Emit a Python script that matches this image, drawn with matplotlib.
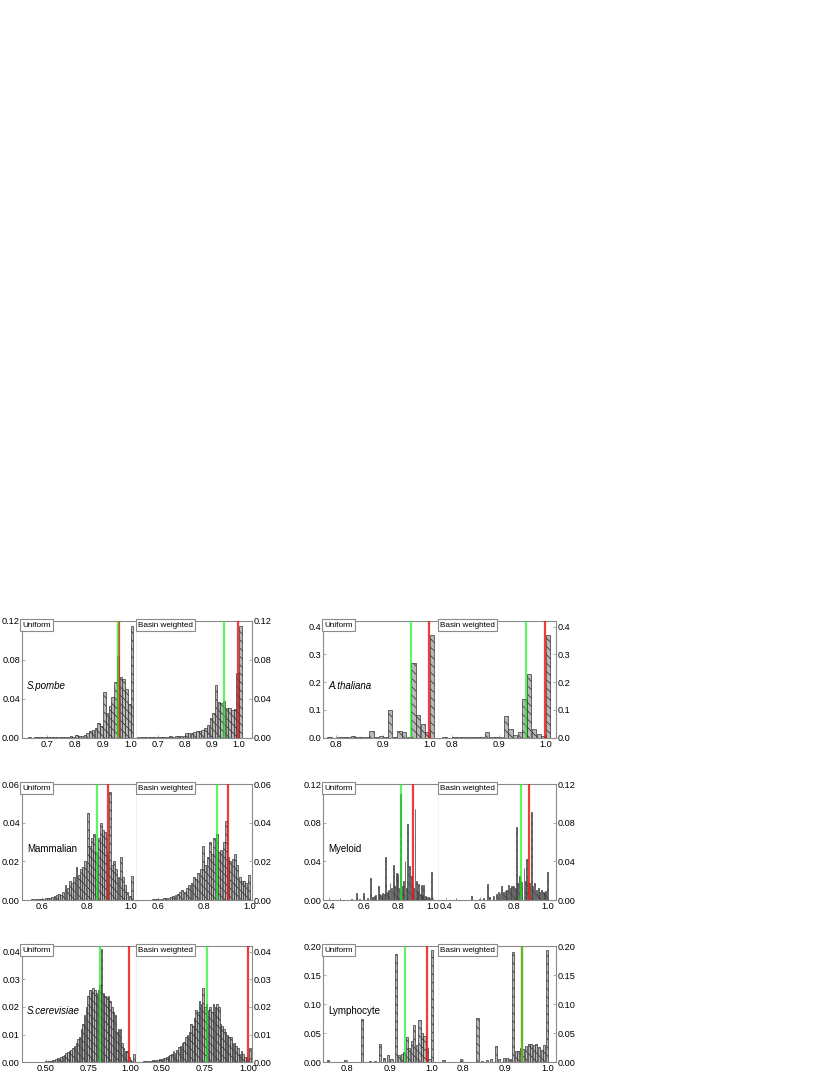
import numpy as np
import matplotlib
matplotlib.use('Agg')
import matplotlib.pyplot as plt
from matplotlib.ticker import FormatStrFormatter

plt.rcParams['font.family'] = ['Liberation Sans', 'DejaVu Sans']
plt.rcParams['hatch.linewidth'] = 0.5

# ---------------- data ----------------
# S.pombe (bin centres, width 0.01)
pombe_x = np.round(np.arange(0.615, 1.0051, 0.01), 3)
pombe_uniform = [0.0002, 0.0002, 0.0003, 0.0002, 0.0003, 0.0004, 0.0003, 0.0005, 0.0006,
                 0.0006, 0.0008, 0.0007, 0.001, 0.0008, 0.001, 0.0012, 0.001, 0.0015, 0.0012,
                 0.003, 0.002, 0.002, 0.003, 0.005, 0.007, 0.008, 0.010, 0.015, 0.012,
                 0.047, 0.025, 0.033, 0.042, 0.057, 0.084, 0.062, 0.060, 0.050, 0.035, 0.115]
pombe_basin = [0.0002, 0.0003, 0.0003, 0.0004, 0.0004, 0.0005, 0.0005, 0.0006, 0.0008,
               0.001, 0.0008, 0.0012, 0.001, 0.0015, 0.0012, 0.0015, 0.002, 0.0015, 0.002,
               0.005, 0.0048, 0.005, 0.006, 0.0065, 0.007, 0.008, 0.010, 0.013, 0.020, 0.025,
               0.054, 0.037, 0.036, 0.038, 0.031, 0.031, 0.028, 0.030, 0.067, 0.115]
pombe_lines = {'uniform': (0.955, 0.957), 'basin': (0.945, 0.995)}  # (green, red)

# A.thaliana
thal_x = np.round(np.arange(0.775, 1.0051, 0.01), 3)
thal_uniform = [0, 0.001, 0, 0.001, 0.001, 0.001, 0.005, 0.001, 0.004, 0.001, 0.023, 0.004,
                0.005, 0.004, 0.100, 0.003, 0.024, 0.022, 0.002, 0.270, 0.080, 0.050, 0.020, 0.370]
thal_basin = [0, 0.001, 0, 0.001, 0.001, 0.001, 0.004, 0.001, 0.003, 0.002, 0.020, 0.004,
              0.004, 0.003, 0.078, 0.030, 0.010, 0.020, 0.138, 0.228, 0.030, 0.012, 0.006, 0.370]
thal_lines = {'uniform': (0.959, 0.999), 'basin': (0.958, 0.999)}

# Mammalian
mamm_x = np.round(np.arange(0.555, 1.0051, 0.01), 3)
mamm_uniform = [0.0003, 0.0003, 0.0004, 0.0005, 0.0005, 0.0006, 0.0008, 0.001, 0.0012, 0.0015,
                0.002, 0.0025, 0.003, 0.0025, 0.004,
                0.008, 0.006, 0.010, 0.009, 0.012, 0.017, 0.013, 0.016, 0.017, 0.020,
                0.045, 0.028, 0.032, 0.034, 0.025, 0.032, 0.040, 0.036, 0.035, 0.025,
                0.056, 0.018, 0.020, 0.016, 0.012, 0.022, 0.012, 0.008, 0.004, 0.002, 0.0125]
mamm_basin = [0.0002, 0.0002, 0.0003, 0.0003, 0.0004, 0.0005, 0.0006, 0.0008, 0.001, 0.0012,
              0.0015, 0.002, 0.0025, 0.003, 0.004,
              0.005, 0.004, 0.006, 0.008, 0.009, 0.012, 0.011, 0.014, 0.016, 0.028,
              0.018, 0.022, 0.030, 0.024, 0.032, 0.034, 0.025, 0.026, 0.030, 0.041,
              0.022, 0.020, 0.021, 0.024, 0.018, 0.012, 0.010, 0.010, 0.009, 0.013, 0.0]
mamm_lines = {'uniform': (0.846, 0.899), 'basin': (0.858, 0.906)}

# Myeloid (sparse bins)
myel_u_x = [0.462, 0.500, 0.530, 0.555, 0.575, 0.597, 0.620, 0.640, 0.650, 0.660, 0.670, 0.684,
            0.692, 0.700, 0.710, 0.718, 0.727, 0.735, 0.744, 0.752, 0.760, 0.771, 0.778, 0.787,
            0.797, 0.805, 0.814, 0.822, 0.829, 0.839, 0.847, 0.855, 0.864, 0.875, 0.882, 0.889,
            0.897, 0.907, 0.913, 0.920, 0.928, 0.936, 0.942, 0.949, 0.957, 0.965, 0.975, 0.983, 0.995]
myel_uniform = [0.002, 0.0005, 0.0008, 0.007, 0.001, 0.007, 0.002, 0.023, 0.003, 0.004, 0.005, 0.0145,
                0.006, 0.005, 0.007, 0.006, 0.045, 0.008, 0.010, 0.018, 0.012, 0.036, 0.015, 0.028,
                0.027, 0.012, 0.110, 0.014, 0.020, 0.040, 0.012, 0.079, 0.035, 0.025, 0.010, 0.012,
                0.094, 0.020, 0.008, 0.017, 0.006, 0.0155, 0.005, 0.0155, 0.004, 0.003, 0.003, 0.002, 0.029]
myel_b_x = [0.459, 0.500, 0.552, 0.600, 0.620, 0.645, 0.660, 0.680, 0.700, 0.710, 0.720, 0.730,
            0.740, 0.750, 0.760, 0.769, 0.780, 0.790, 0.800, 0.810, 0.819, 0.826, 0.834, 0.842,
            0.850, 0.862, 0.870, 0.878, 0.886, 0.895, 0.908, 0.915, 0.927, 0.935, 0.947, 0.955,
            0.967, 0.975, 0.985, 0.992, 1.000]
myel_basin = [0.002, 0.0005, 0.004, 0.001, 0.002, 0.017, 0.003, 0.004, 0.006, 0.008, 0.007, 0.015,
              0.008, 0.009, 0.010, 0.016, 0.012, 0.014, 0.015, 0.012, 0.076, 0.018, 0.025, 0.020,
              0.019, 0.033, 0.020, 0.042, 0.020, 0.018, 0.091, 0.015, 0.018, 0.010, 0.012, 0.008,
              0.010, 0.008, 0.007, 0.009, 0.029]
myel_lines = {'uniform': (0.816, 0.883), 'basin': (0.842, 0.890)}

# S.cerevisiae
cer_u_x = np.round(np.arange(0.50, 1.0201, 0.01), 3)
cer_uniform = [0.0003, 0.0004, 0.0005, 0.0006, 0.0008, 0.001, 0.0012, 0.0014, 0.0017, 0.002,
               0.0024, 0.0028, 0.0032, 0.0038, 0.0042, 0.0045, 0.0052, 0.006, 0.007, 0.0085,
               0.009, 0.012, 0.014, 0.017, 0.020, 0.024, 0.026, 0.0255, 0.027, 0.026,
               0.025, 0.026, 0.028, 0.041, 0.025, 0.024, 0.0235, 0.024, 0.022, 0.020,
               0.018, 0.017, 0.011, 0.012, 0.012, 0.007, 0.005, 0.004, 0.004, 0.002,
               0.001, 0.0005, 0.003]
cer_b_x = np.round(np.arange(0.40, 1.0101, 0.01), 3)
cer_basin = [0.0003, 0.0003, 0.0004, 0.0005, 0.0006, 0.0007, 0.0008, 0.001, 0.0009, 0.0011,
             0.0012, 0.0014, 0.0015, 0.002, 0.0022, 0.0025, 0.003, 0.004, 0.0035, 0.0045,
             0.0055, 0.006, 0.007, 0.0075, 0.009, 0.010, 0.011, 0.014, 0.013, 0.016,
             0.019, 0.018, 0.022, 0.021, 0.027, 0.020, 0.021, 0.019, 0.020, 0.018,
             0.021, 0.020, 0.021, 0.020, 0.014, 0.013, 0.012, 0.011, 0.010, 0.009,
             0.009, 0.007, 0.007, 0.006, 0.005, 0.003, 0.004, 0.003, 0.002, 0.002,
             0.001, 0.005]
cer_lines = {'uniform': (0.820, 0.993), 'basin': (0.764, 1.000)}

# Lymphocyte (sparse bins)
lym_u_x = [0.755, 0.795, 0.834, 0.853, 0.865, 0.877, 0.887, 0.896, 0.904, 0.914, 0.922, 0.928,
           0.934, 0.940, 0.946, 0.952, 0.958, 0.964, 0.970, 0.976, 0.982, 0.988, 0.994, 1.000]
lym_uniform = [0.004, 0.004, 0.074, 0.003, 0.003, 0.032, 0.008, 0.012, 0.005, 0.186, 0.012, 0.015,
               0.017, 0.043, 0.025, 0.036, 0.064, 0.030, 0.072, 0.050, 0.045, 0.025, 0.005, 0.193]
lym_b_x = [0.753, 0.795, 0.834, 0.845, 0.857, 0.866, 0.877, 0.886, 0.896, 0.905, 0.911, 0.918,
           0.925, 0.931, 0.937, 0.943, 0.950, 0.956, 0.962, 0.968, 0.974, 0.981, 0.987, 0.993, 1.000]
lym_basin = [0.004, 0.005, 0.076, 0.003, 0.004, 0.006, 0.028, 0.006, 0.007, 0.008, 0.005, 0.190,
             0.020, 0.020, 0.024, 0.023, 0.028, 0.032, 0.032, 0.030, 0.031, 0.027, 0.022, 0.030, 0.193]
lym_lines = {'uniform': (0.937, 0.987), 'basin': (0.940, 0.940)}

# ---------------- layout ----------------
W, H = 830, 1075
fig = plt.figure(figsize=(W / 100, H / 100), dpi=100)

col_px = [(22, 137.3, 251.7), (323.3, 439.3, 555.7)]
row_px = [(621, 737.7), (784, 900), (946, 1062.3)]

FACE = '#b8b8b8'
EDGE = '#262626'
GREEN = '#22ee22'
RED = '#f01818'
FRAME = '#8a8a8a'

panels = [
    dict(r=0, c=0, name='S.pombe', italic=True,
         ux=pombe_x, uy=pombe_uniform, bx=pombe_x, by=pombe_basin, w=0.0092,
         uxlim=(0.609, 1.024), bxlim=(0.622, 1.047), ylim=(0, 0.12),
         yticks=[0, 0.04, 0.08, 0.12], yfmt='%.2f', xticks=[0.7, 0.8, 0.9, 1.0], xfmt='%.1f',
         lines=pombe_lines),
    dict(r=0, c=1, name='A.thaliana', italic=True,
         ux=thal_x, uy=thal_uniform, bx=thal_x, by=thal_basin, w=0.0092,
         uxlim=(0.772, 1.02), bxlim=(0.774, 1.021), ylim=(0, 0.42),
         yticks=[0, 0.1, 0.2, 0.3, 0.4], yfmt='%.1f', xticks=[0.8, 0.9, 1.0], xfmt='%.1f',
         lines=thal_lines),
    dict(r=1, c=0, name='Mammalian', italic=False,
         ux=mamm_x, uy=mamm_uniform, bx=mamm_x, by=mamm_basin, w=0.0085,
         uxlim=(0.508, 1.03), bxlim=(0.508, 1.008), ylim=(0, 0.06),
         yticks=[0, 0.02, 0.04, 0.06], yfmt='%.2f', xticks=[0.6, 0.8, 1.0], xfmt='%.1f',
         lines=mamm_lines),
    dict(r=1, c=1, name='Myeloid', italic=False,
         ux=myel_u_x, uy=myel_uniform, bx=myel_b_x, by=myel_basin, w=0.0055,
         uxlim=(0.365, 1.038), bxlim=(0.36, 1.05), ylim=(0, 0.12),
         yticks=[0, 0.04, 0.08, 0.12], yfmt='%.2f', xticks=[0.4, 0.6, 0.8, 1.0], xfmt='%.1f',
         lines=myel_lines),
    dict(r=2, c=0, name='S.cerevisiae', italic=True,
         ux=cer_u_x, uy=cer_uniform, bx=cer_b_x, by=cer_basin, w=0.0085,
         uxlim=(0.36, 1.04), bxlim=(0.36, 1.02), ylim=(0, 0.042),
         yticks=[0, 0.01, 0.02, 0.03, 0.04], yfmt='%.2f', xticks=[0.5, 0.75, 1.0], xfmt='%.2f',
         lines=cer_lines),
    dict(r=2, c=1, name='Lymphocyte', italic=False,
         ux=lym_u_x, uy=lym_uniform, bx=lym_b_x, by=lym_basin, w=0.0052,
         uxlim=(0.743, 1.017), bxlim=(0.743, 1.02), ylim=(0, 0.2),
         yticks=[0, 0.05, 0.10, 0.15, 0.20], yfmt='%.2f', xticks=[0.8, 0.9, 1.0], xfmt='%.1f',
         lines=lym_lines),
]


def make_ax(x0, x1, top, bot):
    return fig.add_axes([x0 / W, 1 - bot / H, (x1 - x0) / W, (bot - top) / H])


def draw(ax, x, y, w, xlim, p, lines, side, label):
    ax.bar(x, y, width=w, color=FACE, edgecolor=EDGE, linewidth=0.45,
           hatch='\\\\\\\\', zorder=2)
    g, r = lines
    ax.axvline(r, color=RED, lw=1.6, alpha=0.85, zorder=3)
    ax.axvline(g, color=GREEN, lw=1.6, alpha=0.7, zorder=4)
    ax.set_xlim(*xlim)
    ax.set_ylim(*p['ylim'])
    ax.set_xticks(p['xticks'])
    ax.set_yticks(p['yticks'])
    ax.xaxis.set_major_formatter(FormatStrFormatter(p['xfmt']))
    ax.yaxis.set_major_formatter(FormatStrFormatter(p['yfmt']))
    ax.tick_params(axis='both', direction='in', length=2, width=0.5, color=FRAME,
                   labelsize=6.6, pad=1.5)
    for s in ax.spines.values():
        s.set_color(FRAME)
        s.set_linewidth(0.8)
    if side == 'left':
        ax.spines['right'].set_color('#333333')
        ax.tick_params(axis='y', left=True, right=False, labelleft=True, labelright=False)
    else:
        ax.spines['left'].set_visible(False)
        ax.yaxis.tick_right()
        ax.tick_params(axis='y', left=False, right=True, labelleft=False, labelright=True)
    ax.text(0.006, 0.994, label, transform=ax.transAxes, ha='left', va='top',
            fontsize=5.9, zorder=6,
            bbox=dict(boxstyle='square,pad=0.28', fc='white', ec=FRAME, lw=0.8))


for p in panels:
    x0, xm, x1 = col_px[p['c']]
    top, bot = row_px[p['r']]
    axu = make_ax(x0, xm, top, bot)
    axb = make_ax(xm, x1, top, bot)
    draw(axu, p['ux'], p['uy'], p['w'], p['uxlim'], p, p['lines']['uniform'], 'left', 'Uniform')
    draw(axb, p['bx'], p['by'], p['w'], p['bxlim'], p, p['lines']['basin'], 'right', 'Basin weighted')
    axu.text(0.045, 0.44, p['name'], transform=axu.transAxes, ha='left', va='center',
             fontsize=7.0, style='italic' if p['italic'] else 'normal', zorder=6)

fig.savefig('out.png', dpi=100)
